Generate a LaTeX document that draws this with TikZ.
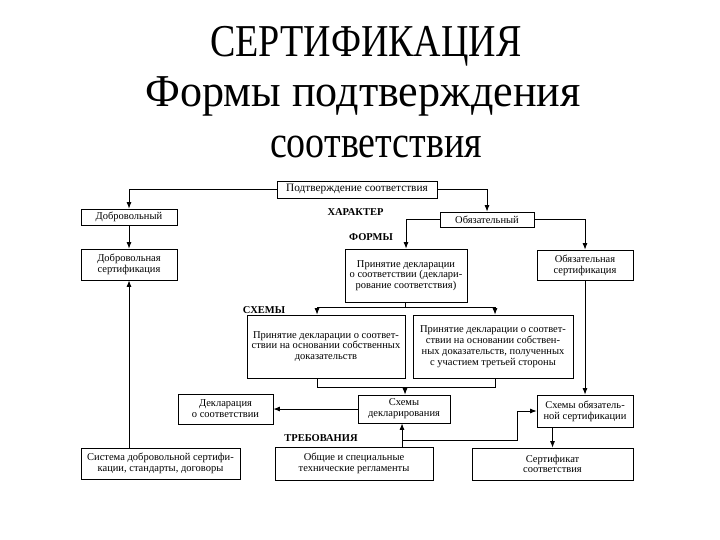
\documentclass[tikz,border=0pt]{standalone}
\usepackage{fontspec}
\setmainfont{Liberation Serif}
\usetikzlibrary{arrows.meta}
\tikzset{
  box/.style={draw=black, line width=0.8pt, inner sep=0pt, align=center,
    font=\fontsize{10.5}{10.8}\selectfont},
  lbl/.style={inner sep=0pt, font=\fontsize{10.5}{12}\selectfont\bfseries},
  ttl/.style={inner sep=0pt, anchor=base, font=\fontsize{38}{40}\selectfont},
  con/.style={line width=0.8pt, draw=black},
  arr/.style={line width=0.8pt, draw=black, -{Latex[length=6.5pt,width=5pt]}},
}
\begin{document}
\begin{tikzpicture}[x=1pt,y=-1pt]
\useasboundingbox (0,0) rectangle (720,540);
% title
\node[ttl] (t1) at (366,57) {\scalebox{1}[1.2]{СЕРТИФИКАЦИЯ}};
\node[ttl] (t2) at (363,107) {\scalebox{1.16}[1.2]{Формы подтверждения}};
\node[ttl] (t3) at (376,158) {\scalebox{1}[1.2]{соответствия}};
% boxes
\node[box, minimum width=160, minimum height=17, font=\fontsize{11.3}{12}\selectfont] (podtv) at (357,189.5) {Подтверждение соответствия};
\node[box, minimum width=96, minimum height=16] (dobr) at (129,217) {Добровольный};
\node[box, minimum width=94, minimum height=15] (obyaz) at (487,219.5) {Обязательный};
\node[box, minimum width=96, minimum height=31] (dobrcert) at (129,264.5) {Добровольная\\сертификация};
\node[box, minimum width=122, minimum height=53] (prin) at (406,275.5) {Принятие декларации\\о соответствии (деклари-\\рование соответствия)};
\node[box, minimum width=96, minimum height=30] (obcert) at (585,265) {Обязательная\\сертификация};
\node[box, minimum width=158, minimum height=63] (sch1) at (326,346.5) {Принятие декларации о соответ-\\ствии на основании собственных\\доказательств};
\node[box, minimum width=160, minimum height=63] (sch2) at (493,346.5) {Принятие декларации о соответ-\\ствии на основании собствен-\\ных доказательств, полученных\\с участием третьей стороны};
\node[box, minimum width=95, minimum height=30] (decl) at (225.5,409) {Декларация\\о соответствии};
\node[box, minimum width=92, minimum height=28] (schdecl) at (404,409) {Схемы\\декларирования};
\node[box, minimum width=96, minimum height=32] (schob) at (585,411) {Схемы обязатель-\\ной сертификации};
\node[box, minimum width=159, minimum height=31] (sist) at (160.5,463.5) {Система добровольной сертифи-\\кации, стандарты, договоры};
\node[box, minimum width=158, minimum height=33] (obsh) at (354,463.5) {Общие и специальные\\технические регламенты};
\node[box, minimum width=161, minimum height=32] (sert) at (552.5,464) {Сертификат\\соответствия};
% labels
\node[lbl] (l1) at (355.5,212) {ХАРАКТЕР};
\node[lbl] (l2) at (371,237) {ФОРМЫ};
\node[lbl] (l3) at (264,310) {СХЕМЫ};
\node[lbl] (l4) at (321,438) {ТРЕБОВАНИЯ};
% coordinates
\coordinate (sa) at (405,307);
\coordinate (sb) at (405,387);
\coordinate (br) at (402,440);
% connectors
\draw[arr] (podtv.west) -| (dobr.north);
\draw[arr] (podtv.east) -| (obyaz.north);
\draw[arr] (dobr.south) -- (dobr.south |- dobrcert.north);
\draw[arr] (obyaz.west) -| (prin.north);
\draw[arr] (obyaz.east) -| (obcert.north);
\draw[con] (prin.south -| sa) -- (sa);
\draw[arr] (sa) -| ([xshift=-9pt]sch1.north);
\draw[arr] (sa) -| ([xshift=2pt]sch2.north);
\draw[con] ([xshift=-9pt]sch1.south) |- (sb);
\draw[con] ([xshift=2pt]sch2.south) |- (sb);
\draw[arr] (sb) -- (sb |- schdecl.north);
\draw[arr] (obcert.south) -- (schob.north);
\draw[arr] (schdecl.west) -- (decl.east);
\draw[arr] (sist.north -| dobrcert.south) -- (dobrcert.south);
\draw[arr] (obsh.north -| br) -- (schdecl.south -| br);
\draw[arr] (br) -- ++(115,0) |- (schob.west);
\draw[arr] (schob.south -| sert.north) -- (sert.north);
\end{tikzpicture}
\end{document}
